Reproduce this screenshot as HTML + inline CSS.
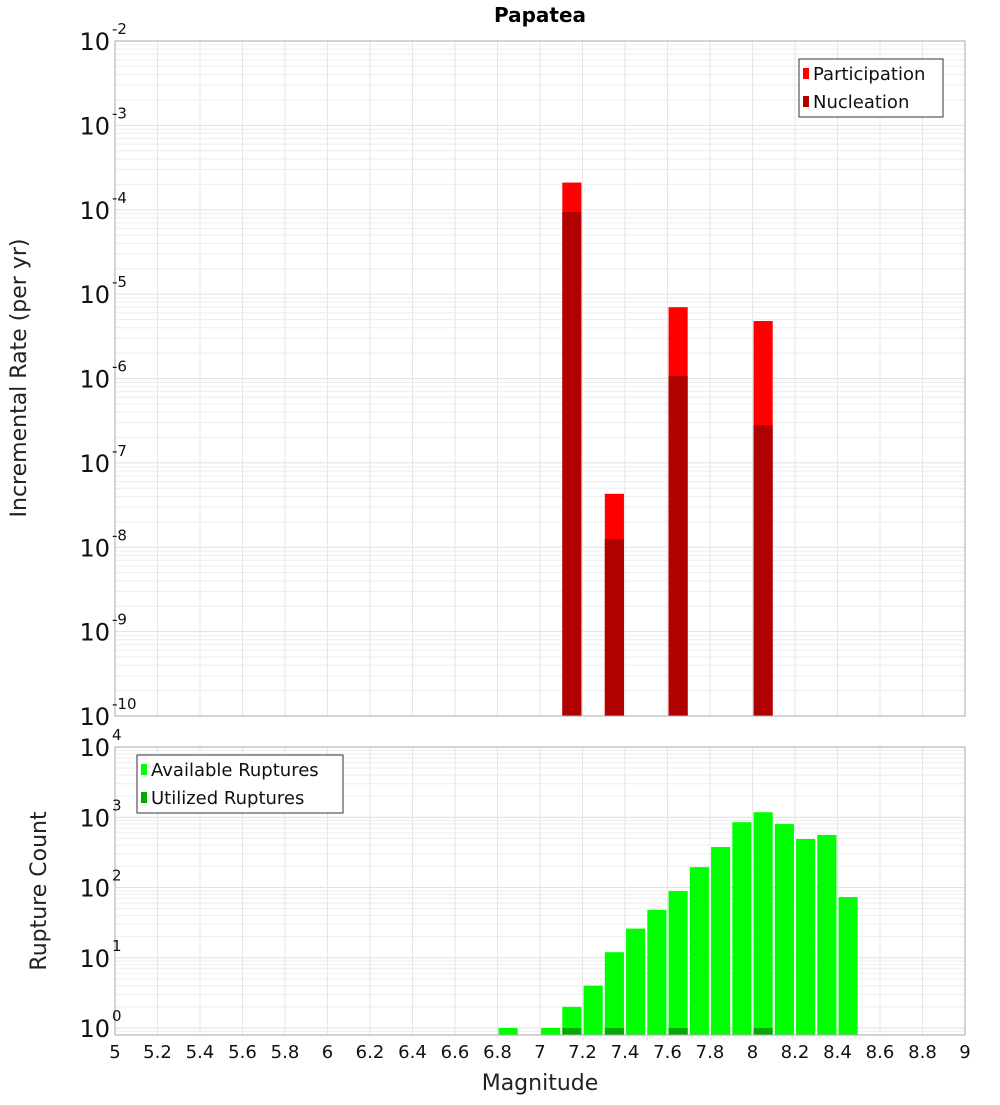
<!DOCTYPE html>
<html><head><meta charset="utf-8"><style>
body{margin:0;background:#fff;font-family:"Liberation Sans","DejaVu Sans",sans-serif}
svg text{font-family:"DejaVu Sans","Liberation Sans",sans-serif}
</style></head><body>
<svg id="c" width="1000" height="1100" xmlns="http://www.w3.org/2000/svg">
<text x="540" y="22" text-anchor="middle" font-size="20" font-weight="bold">Papatea</text>
<g id="topPanel"></g>
<g id="botPanel"></g>
<text transform="translate(26,378) rotate(-90)" text-anchor="middle" font-size="22" fill="#222">Incremental Rate (per yr)</text>
<text transform="translate(46,891) rotate(-90)" text-anchor="middle" font-size="22" fill="#222">Rupture Count</text>
<text x="540" y="1090" text-anchor="middle" font-size="22" fill="#222">Magnitude</text>
</svg>
<script>
const rateBins=[7.15,7.35,7.65,8.05];
const participation=[2.1e-4,4.3e-8,7e-6,4.8e-6];
const nucleation=[9.4e-5,1.25e-8,1.07e-6,2.8e-7];
const countBins=[6.85,7.05,7.15,7.25,7.35,7.45,7.55,7.65,7.75,7.85,7.95,8.05,8.15,8.25,8.35,8.45];
const available=[1,1,2,4,12,26,48,89,195,377,850,1180,800,490,560,73];
const utilBins=[7.15,7.35,7.65,8.05];
const utilized=[1,1,1,1];
const xTicks=[5,5.2,5.4,5.6,5.8,6,6.2,6.4,6.6,6.8,7,7.2,7.4,7.6,7.8,8,8.2,8.4,8.6,8.8,9];
const topExps=[-2,-3,-4,-5,-6,-7,-8,-9,-10];
const botExps=[4,3,2,1,0];

const NS='http://www.w3.org/2000/svg';
const X0=115,X1=965;
const xs=m=>X0+(m-5)/4*(X1-X0);
const T0=41,T1=716;
const yTop=v=>T0+(-2-Math.log10(v))/8*(T1-T0);
const B0=747,Bz=1028,B1=1035;
const yBot=v=>Bz-Math.log10(v)*(Bz-B0)/4;
function mk(p,tag,a){const e=document.createElementNS(NS,tag);for(const k in a)e.setAttribute(k,a[k]);p.appendChild(e);return e;}
function grid(g,y0,y1,lo,hi,yf){
  for(let d=lo;d<hi;d++)for(let k=1;k<=9;k++){const y=yf(k*Math.pow(10,d));if(y<y0||y>y1)continue;
    const l=mk(g,'line',{x1:X0,x2:X1,y1:y,y2:y,stroke:k==1?'#e0e0e0':'#eeeeee','stroke-width':1});
    
    }
  xTicks.forEach(t=>{const l=mk(g,'line',{x1:xs(t),x2:xs(t),y1:y0,y2:y1,stroke:'#e6e6e6'});
    
    });
}
const topG=document.getElementById('topPanel'),botG=document.getElementById('botPanel');
grid(topG,T0,T1,-10,-2,yTop);
grid(botG,B0,B1,-1,4,yBot);
const bw=0.09*(X1-X0)/4;
rateBins.forEach((m,i)=>{
  const y=yTop(participation[i]);const r=mk(topG,'rect',{x:xs(m)-bw/2,y:y,width:bw,height:T1-y,fill:'#ff0000'});
  
  
  const y2=yTop(nucleation[i]);const r2=mk(topG,'rect',{x:xs(m)-bw/2,y:y2,width:bw,height:T1-y2,fill:'#b00000'});
  
  
});
const cw=0.09*(X1-X0)/4;
countBins.forEach((m,i)=>{
  const y=yBot(available[i]);const r=mk(botG,'rect',{x:xs(m)-cw/2,y:y,width:cw,height:B1-y,fill:'#00ff00'});
  
  
});
utilBins.forEach((m,i)=>{
  const y=yBot(utilized[i]);const r=mk(botG,'rect',{x:xs(m)-cw/2,y:y,width:cw,height:B1-y,fill:'#00aa00'});
  
  
});
const f1=mk(topG,'rect',{x:X0,y:T0,width:X1-X0,height:T1-T0,fill:'none',stroke:'#aaa'});


const f2=mk(botG,'rect',{x:X0,y:B0,width:X1-X0,height:B1-B0,fill:'none',stroke:'#aaa'});


function ylab(g,e,y){
  const t=mk(g,'text',{x:110,y:y+9,'text-anchor':'end','font-size':24,fill:'#111'});
  
  
  t.textContent='10';
  const s=mk(g,'text',{x:112,y:y-7,'font-size':15,fill:'#111'});
  
  
  s.textContent=String(e);
}
topExps.forEach(e=>ylab(topG,e,yTop(Math.pow(10,e))));
botExps.forEach(e=>ylab(botG,e,yBot(Math.pow(10,e))));
xTicks.forEach(t=>{const tx=mk(botG,'text',{x:xs(t),y:1058,'text-anchor':'middle','font-size':18,fill:'#111'});
  
  
  tx.textContent=String(t);});
function legend(g,x,y,w,items){
  const b=mk(g,'rect',{x:x,y:y,width:w,height:58,fill:'#fff',stroke:'#333'});
  
  
  items.forEach((it,i)=>{
    const sw=mk(g,'rect',{x:x+4,y:y+9+i*28,width:6,height:11,fill:it[1]});
    
    
    const t=mk(g,'text',{x:x+14,y:y+21+i*28,'font-size':18,fill:'#111'});
    
    
    t.textContent=it[0];
  });
}
legend(topG,799,59,144,[['Participation','#ff0000'],['Nucleation','#b00000']]);
legend(botG,137,755,206,[['Available Ruptures','#00ff00'],['Utilized Ruptures','#00aa00']]);
</script>
</body></html>
